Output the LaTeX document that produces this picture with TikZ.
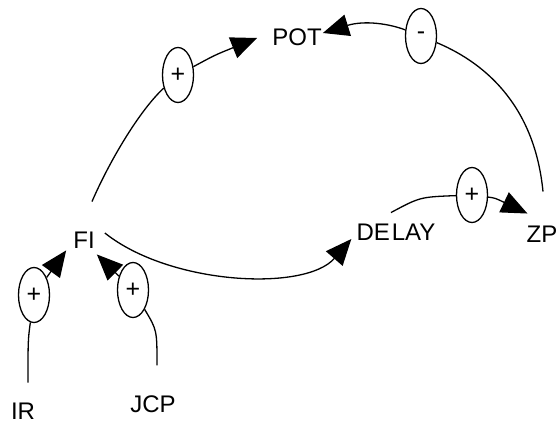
\documentclass[tikz,border=0pt]{standalone}
\usepackage{fontspec}
\setmainfont{Liberation Sans}
\usetikzlibrary{arrows.meta,shapes.geometric,calc}
\begin{document}
\begin{tikzpicture}[x=1pt,y=-1pt,
  lbl/.style={font=\fontsize{24}{24}\selectfont, inner sep=0pt},
  sgn/.style={ellipse, draw, line width=1.3pt, minimum width=31pt, minimum height=55pt, inner sep=0pt, font=\fontsize{25}{25}\selectfont, fill=white},
  link/.style={line width=1.3pt},
  arr/.style={line width=1.3pt, -{Triangle[length=26pt,width=22pt]}}]
\useasboundingbox (0,0) rectangle (560,425);
% variables
\node[lbl] (POT) at (297,37) {POT};
\node[lbl] (FI) at (84,240) {FI};
\node[lbl] (DELAY) at (396,232) {DE\hspace{2pt}LAY};
\node[lbl] (ZP) at (542,234) {ZP};
\node[lbl] (IR) at (23,411) {IR};
\node[lbl] (JCP) at (153,404) {JCP};
% sign ellipses
\node[sgn] (s1) at (178,75) {+};
\node[sgn] (s2) at (421,36) {-};
\node[sgn] (s4) at (472,195) {+};
\node[sgn] (s5) at (34,295) {+};
\node[sgn] (s6) at (133,290) {+};
% FI -> POT
\draw[link] ($(FI.north)+(8,-30)$) .. controls (110,160) and (140,110) .. (s1);
\draw[arr] (s1) .. controls (215,55) .. ($(POT.west)+(-15,1)$);
% ZP -> POT
\draw[link] ($(ZP.north)+(1,-34)$) .. controls (535,110) and (490,65) .. (s2);
\draw[arr] (s2) .. controls (390,24) and (365,20) .. ($(POT.east)+(1,-4)$);
% FI -> DELAY
\draw[arr] ($(FI.east)+(10,-7)$) .. controls (170,285) and (305,292) .. ($(DELAY.west)+(-5,7)$);
% DELAY -> ZP
\draw[link] ($(DELAY.north)+(-5,-11)$) .. controls (420,197) .. (s4);
\draw[arr] (s4) .. controls (495,198) .. ($(ZP.north west)+(1,-12)$);
% IR -> FI
\draw[link] ($(IR.north)+(5,-20)$) .. controls (28,340) .. (s5);
\draw[arr] (s5) -- ($(FI.south west)+(-7,2)$);
% JCP -> FI
\draw[link] ($(JCP.north)+(4,-30)$) .. controls (157,330) .. (s6);
\draw[arr] (s6) -- ($(FI.south east)+(2,6)$);
\end{tikzpicture}
\end{document}
